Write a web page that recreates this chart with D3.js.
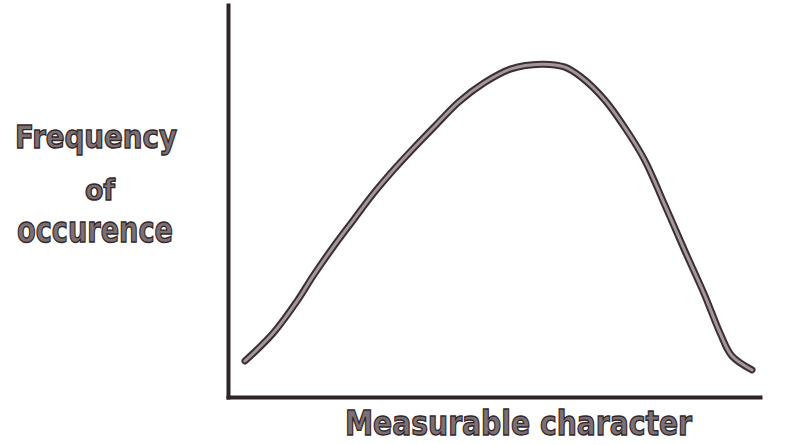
<!DOCTYPE html>
<html>
<head>
<meta charset="utf-8">
<script src="https://cdn.jsdelivr.net/npm/d3@7"></script>
<style>
  html, body { margin: 0; padding: 0; background: #ffffff; }
  svg { display: block; }
</style>
</head>
<body>
<svg id="chart" width="790" height="445"></svg>
<script>
// Measurable character (relative units) and its frequency of occurrence
const character = [3.2, 8.5, 13.0, 16.0, 19.8, 23.6, 27.4, 31.1, 34.9, 39.1, 43.4, 48.1, 53.2, 58.9, 63.2, 66.4, 70.8, 74.5, 78.3, 82.1, 85.8, 89.6, 92.5, 94.7, 98.5];
const frequency = [9.2, 16.3, 24.5, 30.9, 38.3, 45.2, 52.0, 57.9, 63.5, 69.4, 75.3, 80.1, 83.7, 84.9, 84.2, 81.6, 75.8, 68.9, 60.5, 49.0, 37.5, 26.0, 16.3, 10.5, 6.9];
const yTitleLines = ["Frequency", "of", "occurence"];
const xTitle = "Measurable character";

const svg = d3.select("#chart");
const margin = { left: 228, right: 30, top: 5, bottom: 48 };
const W = 790, H = 445;

const x = d3.scaleLinear().domain([0, 100]).range([margin.left, W - margin.right]);
const y = d3.scaleLinear().domain([0, 100]).range([H - margin.bottom, margin.top]);

const ink = "#2e2427";

// Axes: bare lines, no ticks
const xAxis = svg.append("g")
  .attr("transform", `translate(0,${y(0)})`)
  .call(d3.axisBottom(x).ticks(0).tickSizeOuter(0));
const yAxis = svg.append("g")
  .attr("transform", `translate(${x(0)},0)`)
  .call(d3.axisLeft(y).ticks(0).tickSizeOuter(0));
[xAxis, yAxis].forEach(g => g.select(".domain")
  .attr("stroke", ink).attr("stroke-width", 4).attr("stroke-linecap", "square"));

// Distribution curve: dark outline with a lighter core
const pts = character.map((c, i) => [c, frequency[i]]);
const line = d3.line().x(d => x(d[0])).y(d => y(d[1])).curve(d3.curveCatmullRom.alpha(0.5));
svg.append("path").datum(pts).attr("d", line)
  .attr("fill", "none").attr("stroke", "#3a2f33").attr("stroke-width", 7)
  .attr("stroke-linecap", "round").attr("stroke-linejoin", "round");
svg.append("path").datum(pts).attr("d", line)
  .attr("fill", "none").attr("stroke", "#a3979b").attr("stroke-width", 3)
  .attr("stroke-linecap", "round").attr("stroke-linejoin", "round");

// Titles
const titleStyle = sel => sel
  .attr("font-family", "DejaVu Sans, sans-serif")
  .attr("font-weight", "bold")
  .attr("fill", "#7d7074")
  .attr("stroke", "#33282b")
  .attr("stroke-width", 1.4)
  .attr("paint-order", "fill")
  .attr("lengthAdjust", "spacingAndGlyphs");

const yTitle = [
  { t: yTitleLines[0], cx: 96, base: 148, size: 32, len: 162 },
  { t: yTitleLines[1], cx: 100, base: 200, size: 28, len: 30 },
  { t: yTitleLines[2], cx: 95, base: 242, size: 36, len: 156 }
];
yTitle.forEach(d => {
  svg.append("text").text(d.t)
    .attr("x", d.cx - d.len / 2).attr("y", d.base)
    .attr("font-size", d.size)
    .attr("textLength", d.len)
    .call(titleStyle);
});

svg.append("text").text(xTitle)
  .attr("x", 345).attr("y", 435)
  .attr("font-size", 34)
  .attr("textLength", 347)
  .call(titleStyle);
</script>
</body>
</html>
